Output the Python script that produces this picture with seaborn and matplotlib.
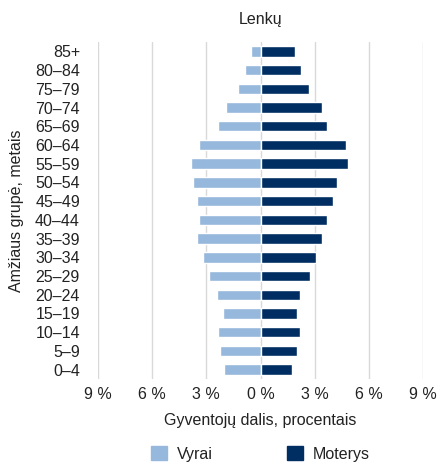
import numpy as np
import pandas as pd
import matplotlib
matplotlib.use("Agg")
import matplotlib.pyplot as plt
import seaborn as sns
from matplotlib.patches import Patch

age_groups = ["85+", "80–84", "75–79", "70–74", "65–69", "60–64", "55–59", "50–54",
              "45–49", "40–44", "35–39", "30–34", "25–29", "20–24", "15–19",
              "10–14", "5–9", "0–4"]
men = [0.54, 0.87, 1.26, 1.93, 2.37, 3.43, 3.87, 3.76, 3.54, 3.43, 3.54, 3.2,
       2.87, 2.43, 2.09, 2.37, 2.26, 2.04]
women = [1.9, 2.24, 2.68, 3.41, 3.69, 4.74, 4.85, 4.24, 4.02, 3.69, 3.41, 3.07,
         2.74, 2.19, 2.02, 2.19, 2.02, 1.74]
tick_values = [-9, -6, -3, 0, 3, 6, 9]
tick_labels = ["9 %", "6 %", "3 %", "0 %", "3 %", "6 %", "9 %"]
series_names = ["Vyrai", "Moterys"]

c_men = "#95b8dc"
c_women = "#002d62"
fs = 11.5

sns.set_theme(style="white")
plt.rcParams["font.family"] = ["Liberation Sans", "DejaVu Sans"]

fig = plt.figure(figsize=(4.37, 4.66), dpi=100)
ax = fig.add_axes([98/437, 1-379/466, (423-98)/437, (379-42)/466])

df_m = pd.DataFrame({"age": age_groups, "value": [-v for v in men]})
df_w = pd.DataFrame({"age": age_groups, "value": women})
sns.barplot(data=df_m, x="value", y="age", orient="h", color=c_men,
            width=0.56, saturation=1, ax=ax)
sns.barplot(data=df_w, x="value", y="age", orient="h", color=c_women,
            width=0.56, saturation=1, ax=ax)

ax.set_xlim(-9, 9)
ax.set_ylim(len(age_groups) - 0.5, -0.5)
ax.set_xticks(tick_values)
ax.set_xticklabels(tick_labels)
ax.xaxis.grid(True, color="#d9d9d9", linewidth=1)
ax.set_axisbelow(True)
for s in ax.spines.values():
    s.set_visible(False)
ax.tick_params(axis="both", length=0, labelsize=fs, colors="#222222")
ax.tick_params(axis="y", pad=13)
ax.tick_params(axis="x", pad=6)
ax.set_xlabel("Gyventojų dalis, procentais", fontsize=fs, color="#222222", labelpad=8)
ax.set_ylabel("Amžiaus grupė, metais", fontsize=fs, color="#222222", labelpad=8)
ax.set_title("Lenkų", fontsize=fs, color="#222222", pad=13)

handles = [Patch(color=c_men, label=series_names[0]),
           Patch(color=c_women, label=series_names[1])]
fig.legend(handles=handles, loc="center", bbox_to_anchor=(260.5/437, 1-454/466),
           ncol=2, frameon=False, fontsize=fs, handlelength=1.0, handleheight=1.0,
           columnspacing=4.6, handletextpad=0.63, labelcolor="#222222")

fig.savefig("out.png", dpi=100)
